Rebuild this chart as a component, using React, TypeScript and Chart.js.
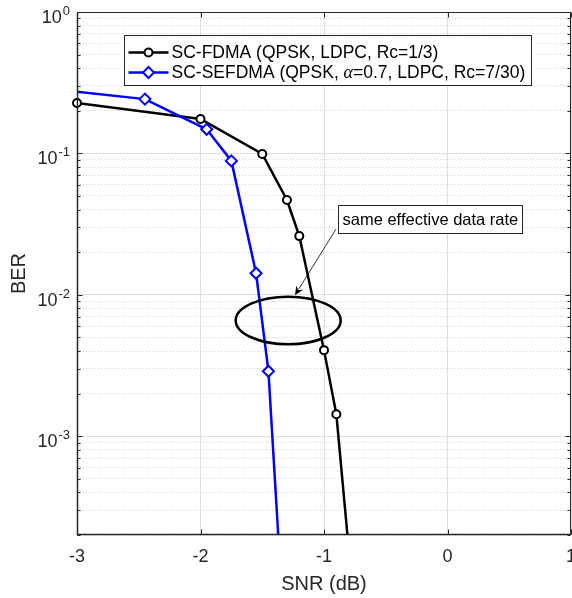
import React, { useEffect, useRef } from 'react';
import { Chart, registerables } from 'chart.js';

Chart.register(...registerables);

// ---------- data ----------
const xTickValues = [-3, -2, -1, 0, 1];
const yDecades = [1e-3, 1e-2, 1e-1, 1];
const yMinorMultipliers = [2, 3, 4, 5, 6, 7, 8, 9];
const xMin = -3;
const xMax = 1;
const yMin = 2e-4;
const yMax = 1;

const scFdmaSnr = [-3, -2, -1.5, -1.3, -1.2, -1.0, -0.9, -0.8];
const scFdmaBer = [0.227, 0.175, 0.099, 0.0468, 0.026, 0.00406, 0.00143, 0.00016];

const scSefdmaSnr = [-3.45, -2.45, -1.95, -1.75, -1.55, -1.45, -1.35];
const scSefdmaBer = [0.3, 0.242, 0.148, 0.0885, 0.0142, 0.00288, 0.0001];

const seriesLabels = ['SC-FDMA (QPSK, LDPC, Rc=1/3)', 'SC-SEFDMA (QPSK, α=0.7, LDPC, Rc=7/30)'];
const seriesColors = ['#000000', '#0000ff'];

const xTitle = 'SNR (dB)';
const yTitle = 'BER';
const annotationText = 'same effective data rate';
// annotation anchors in data coordinates
const textBoxAnchor = { x: -0.887, y: 0.043 };
const arrowStart = { x: -0.903, y: 0.0291 };
const arrowEnd = { x: -1.235, y: 0.00993 };
const ellipseBounds = { x0: -1.715, x1: -0.865, yTop: 0.0097, yBottom: 0.00447 };

// ---------- helpers ----------
const FONT = '"Liberation Sans", Arial, Helvetica, sans-serif';
const AXIS_COLOR = '#262626';
const CIRCLE_R = 4;
const DIAMOND_R = 5.5;

const toPoints = (xs: number[], ys: number[]) => xs.map((x, i) => ({ x, y: ys[i] }));
const inRange = (p: { x: number; y: number }) => p.x >= xMin && p.x <= xMax && p.y >= yMin && p.y <= yMax;
const isDecade = (v: number) => Math.abs(Math.log10(v) - Math.round(Math.log10(v))) < 1e-9;

function yTickValues() {
  const out: number[] = [];
  const lo = Math.floor(Math.log10(yMin));
  const hi = Math.ceil(Math.log10(yMax));
  for (let e = lo; e <= hi; e++) {
    const d = Math.pow(10, e);
    if (d >= yMin && d <= yMax) out.push(d);
    for (const m of yMinorMultipliers) {
      const v = m * d;
      if (v >= yMin * 0.9999 && v <= yMax) out.push(v);
    }
  }
  return out.sort((a, b) => a - b);
}

function drawCircleMarker(ctx: CanvasRenderingContext2D, x: number, y: number, color: string) {
  ctx.save();
  ctx.beginPath();
  ctx.arc(x, y, CIRCLE_R, 0, Math.PI * 2);
  ctx.fillStyle = '#fff';
  ctx.fill();
  ctx.lineWidth = 2;
  ctx.strokeStyle = color;
  ctx.stroke();
  ctx.restore();
}

function drawDiamondMarker(ctx: CanvasRenderingContext2D, x: number, y: number, color: string) {
  const r = DIAMOND_R;
  ctx.save();
  ctx.beginPath();
  ctx.moveTo(x, y - r);
  ctx.lineTo(x + r, y);
  ctx.lineTo(x, y + r);
  ctx.lineTo(x - r, y);
  ctx.closePath();
  ctx.fillStyle = '#fff';
  ctx.fill();
  ctx.lineWidth = 2;
  ctx.strokeStyle = color;
  ctx.stroke();
  ctx.restore();
}

const decorPlugin = {
  id: 'decor',
  afterDatasetsDraw(chart: any) {
    const ctx: CanvasRenderingContext2D = chart.ctx;
    const area = chart.chartArea;
    const xs = chart.scales.x;
    const ys = chart.scales.y;
    ctx.save();

    // ---- axes box ----
    ctx.strokeStyle = AXIS_COLOR;
    ctx.lineWidth = 1;
    const L = Math.round(area.left) + 0.5;
    const R = Math.round(area.right) - 0.5;
    const T = Math.round(area.top) + 0.5;
    const B = Math.round(area.bottom) - 0.5;
    ctx.beginPath();
    ctx.rect(L, T, R - L, B - T);
    ctx.stroke();
    ctx.lineWidth = 1.5;
    ctx.beginPath();
    ctx.moveTo(L, T);
    ctx.lineTo(L, B);
    ctx.lineTo(R, B);
    ctx.stroke();

    // ---- inward ticks ----
    ctx.lineWidth = 1;
    for (const v of yTickValues()) {
      const py = Math.round(ys.getPixelForValue(v)) + 0.5;
      const len = isDecade(v) ? 5 : 3;
      ctx.beginPath();
      ctx.moveTo(L, py);
      ctx.lineTo(L + len, py);
      ctx.moveTo(R, py);
      ctx.lineTo(R - len, py);
      ctx.stroke();
    }
    for (const v of xTickValues) {
      const px = Math.round(xs.getPixelForValue(v)) + 0.5;
      ctx.beginPath();
      ctx.moveTo(px, B);
      ctx.lineTo(px, B - 5);
      ctx.moveTo(px, T);
      ctx.lineTo(px, T + 5);
      ctx.stroke();
    }

    // ---- x tick labels ----
    ctx.fillStyle = AXIS_COLOR;
    ctx.font = `18px ${FONT}`;
    ctx.textAlign = 'center';
    ctx.textBaseline = 'alphabetic';
    for (const v of xTickValues) {
      ctx.fillText(String(v), xs.getPixelForValue(v), area.bottom + 27);
    }

    // ---- y tick labels (10^n) ----
    for (const d of yDecades) {
      const py = ys.getPixelForValue(d);
      const exp = String(Math.round(Math.log10(d)));
      ctx.font = `13px ${FONT}`;
      const we = ctx.measureText(exp).width;
      ctx.font = `18px ${FONT}`;
      const wb = ctx.measureText('10').width;
      const right = area.left - 7;
      ctx.textAlign = 'left';
      ctx.textBaseline = 'alphabetic';
      ctx.fillText('10', right - we - wb - 1, py + 11);
      ctx.font = `13px ${FONT}`;
      ctx.fillText(exp, right - we, py + 3);
    }

    // ---- axis titles ----
    ctx.font = `20px ${FONT}`;
    ctx.textAlign = 'center';
    ctx.textBaseline = 'alphabetic';
    ctx.fillText(xTitle, (area.left + area.right) / 2, area.bottom + 55);
    ctx.save();
    ctx.translate(25, (area.top + area.bottom) / 2);
    ctx.rotate(-Math.PI / 2);
    ctx.fillText(yTitle, 0, 0);
    ctx.restore();

    // ---- ellipse ----
    const ex0 = xs.getPixelForValue(ellipseBounds.x0);
    const ex1 = xs.getPixelForValue(ellipseBounds.x1);
    const ey0 = ys.getPixelForValue(ellipseBounds.yTop);
    const ey1 = ys.getPixelForValue(ellipseBounds.yBottom);
    ctx.beginPath();
    ctx.ellipse((ex0 + ex1) / 2, (ey0 + ey1) / 2, (ex1 - ex0) / 2, (ey1 - ey0) / 2, 0, 0, Math.PI * 2);
    ctx.strokeStyle = '#000';
    ctx.lineWidth = 2.5;
    ctx.stroke();

    // ---- arrow ----
    const ax0 = xs.getPixelForValue(arrowStart.x);
    const ay0 = ys.getPixelForValue(arrowStart.y);
    const ax1 = xs.getPixelForValue(arrowEnd.x);
    const ay1 = ys.getPixelForValue(arrowEnd.y);
    const ang = Math.atan2(ay1 - ay0, ax1 - ax0);
    const hl = 9;
    const hw = 4;
    const bx = ax1 - hl * Math.cos(ang);
    const by = ay1 - hl * Math.sin(ang);
    ctx.lineWidth = 0.8;
    ctx.beginPath();
    ctx.moveTo(ax0, ay0);
    ctx.lineTo(bx + 2 * Math.cos(ang), by + 2 * Math.sin(ang));
    ctx.stroke();
    ctx.beginPath();
    ctx.moveTo(ax1, ay1);
    ctx.lineTo(bx - hw * Math.sin(ang), by + hw * Math.cos(ang));
    ctx.lineTo(bx + 3 * Math.cos(ang), by + 3 * Math.sin(ang));
    ctx.lineTo(bx + hw * Math.sin(ang), by - hw * Math.cos(ang));
    ctx.closePath();
    ctx.fillStyle = '#000';
    ctx.fill();

    // ---- annotation text box ----
    ctx.font = `16.5px ${FONT}`;
    const tw = ctx.measureText(annotationText).width;
    const tbx = Math.round(xs.getPixelForValue(textBoxAnchor.x)) + 0.5;
    const tby = Math.round(ys.getPixelForValue(textBoxAnchor.y)) + 0.5;
    const tbw = Math.round(tw + 8);
    const tbh = 28;
    ctx.fillStyle = '#fff';
    ctx.fillRect(tbx, tby, tbw, tbh);
    ctx.strokeStyle = AXIS_COLOR;
    ctx.lineWidth = 1;
    ctx.strokeRect(tbx, tby, tbw, tbh);
    ctx.fillStyle = '#000';
    ctx.textAlign = 'left';
    ctx.textBaseline = 'middle';
    ctx.fillText(annotationText, tbx + 4, tby + tbh / 2 + 1);

    // ---- legend ----
    const lx = Math.round(area.left + 47) + 0.5;
    const ly = Math.round(area.top + 23) + 0.5;
    const legFont = `17.5px ${FONT}`;
    const alphaFont = `italic 18px "Liberation Serif", "DejaVu Serif", serif`;
    const measureLabel = (s: string) => {
      const parts = s.split('α');
      let w = 0;
      parts.forEach((p, i) => {
        ctx.font = legFont;
        w += ctx.measureText(p).width;
        if (i < parts.length - 1) {
          ctx.font = alphaFont;
          w += ctx.measureText('α').width;
        }
      });
      return w;
    };
    const maxW = Math.max(...seriesLabels.map(measureLabel));
    const lw = Math.round(47 + maxW + 6);
    const lh = 50;
    ctx.fillStyle = '#fff';
    ctx.fillRect(lx, ly, lw, lh);
    ctx.strokeStyle = AXIS_COLOR;
    ctx.lineWidth = 1;
    ctx.strokeRect(lx, ly, lw, lh);
    seriesLabels.forEach((s, i) => {
      const cy = ly + 17 + i * 20;
      ctx.strokeStyle = seriesColors[i];
      ctx.lineWidth = 2.5;
      ctx.beginPath();
      ctx.moveTo(lx + 4, cy);
      ctx.lineTo(lx + 44, cy);
      ctx.stroke();
      if (i === 0) drawCircleMarker(ctx, lx + 24, cy, seriesColors[i]);
      else drawDiamondMarker(ctx, lx + 24, cy, seriesColors[i]);
      let tx = lx + 47;
      ctx.fillStyle = '#000';
      ctx.textAlign = 'left';
      ctx.textBaseline = 'middle';
      const parts = s.split('α');
      parts.forEach((p, k) => {
        ctx.font = legFont;
        ctx.fillText(p, tx, cy + 1);
        tx += ctx.measureText(p).width;
        if (k < parts.length - 1) {
          ctx.font = alphaFont;
          ctx.fillText('α', tx, cy + 1);
          tx += ctx.measureText('α').width;
        }
      });
    });

    ctx.restore();
  },
};

export default function App() {
  const ref = useRef<HTMLCanvasElement>(null);
  useEffect(() => {
    const canvas = ref.current;
    if (!canvas) return;
    Chart.defaults.font.family = FONT;
    const fdma = toPoints(scFdmaSnr, scFdmaBer);
    const sefdma = toPoints(scSefdmaSnr, scSefdmaBer);
    const chart = new Chart(canvas, {
      type: 'line',
      data: {
        datasets: [
          {
            label: seriesLabels[1] + ' markers',
            data: sefdma,
            showLine: false,
            pointStyle: 'rectRot',
            pointRadius: (c: any) => (c.raw && inRange(c.raw) ? DIAMOND_R : 0),
            pointBorderWidth: 2,
            pointBorderColor: seriesColors[1],
            pointBackgroundColor: '#fff',
            clip: false,
            order: 0,
          } as any,
          {
            label: seriesLabels[1],
            data: sefdma,
            borderColor: seriesColors[1],
            borderWidth: 2.5,
            pointRadius: 0,
            tension: 0,
            clip: 0,
            order: 1,
          } as any,
          {
            label: seriesLabels[0] + ' markers',
            data: fdma,
            showLine: false,
            pointStyle: 'circle',
            pointRadius: (c: any) => (c.raw && inRange(c.raw) ? CIRCLE_R : 0),
            pointBorderWidth: 2,
            pointBorderColor: seriesColors[0],
            pointBackgroundColor: '#fff',
            clip: false,
            order: 2,
          } as any,
          {
            label: seriesLabels[0],
            data: fdma,
            borderColor: seriesColors[0],
            borderWidth: 2.5,
            pointRadius: 0,
            tension: 0,
            clip: 0,
            order: 3,
          } as any,
        ],
      },
      options: {
        responsive: false,
        animation: false,
        devicePixelRatio: 1,
        layout: { autoPadding: false, padding: { left: 0, top: 12, right: 1, bottom: 0 } },
        plugins: { legend: { display: false }, tooltip: { enabled: false } },
        events: [],
        scales: {
          x: {
            type: 'linear',
            min: xMin,
            max: xMax,
            afterBuildTicks: (scale: any) => {
              scale.ticks = xTickValues.map((v) => ({ value: v }));
            },
            afterFit: (scale: any) => {
              scale.height = 63;
              scale.paddingLeft = 0;
              scale.paddingRight = 0;
            },
            ticks: { display: false },
            grid: { color: '#dedede', lineWidth: 1, drawTicks: false },
            border: { display: false },
          },
          y: {
            type: 'logarithmic',
            min: yMin,
            max: yMax,
            afterBuildTicks: (scale: any) => {
              scale.ticks = yTickValues().map((v) => ({ value: v, major: isDecade(v) }));
            },
            afterFit: (scale: any) => {
              scale.width = 77;
              scale.paddingTop = 0;
              scale.paddingBottom = 0;
            },
            ticks: { display: false },
            grid: {
              color: (c: any) => (c.tick && isDecade(c.tick.value) ? '#dedede' : '#cfcfcf'),
              lineWidth: 1,
              drawTicks: false,
            },
            border: {
              display: false,
              dash: (c: any) => (c.tick && isDecade(c.tick.value) ? [] : [1, 2]),
            },
          },
        },
      } as any,
      plugins: [decorPlugin],
    });
    return () => chart.destroy();
  }, []);
  return (
    <div style={{ position: 'absolute', left: 0, top: 0, width: 572, height: 598, background: '#fff' }}>
      <canvas ref={ref} width={572} height={598} style={{ display: 'block', width: 572, height: 598 }} />
    </div>
  );
}
